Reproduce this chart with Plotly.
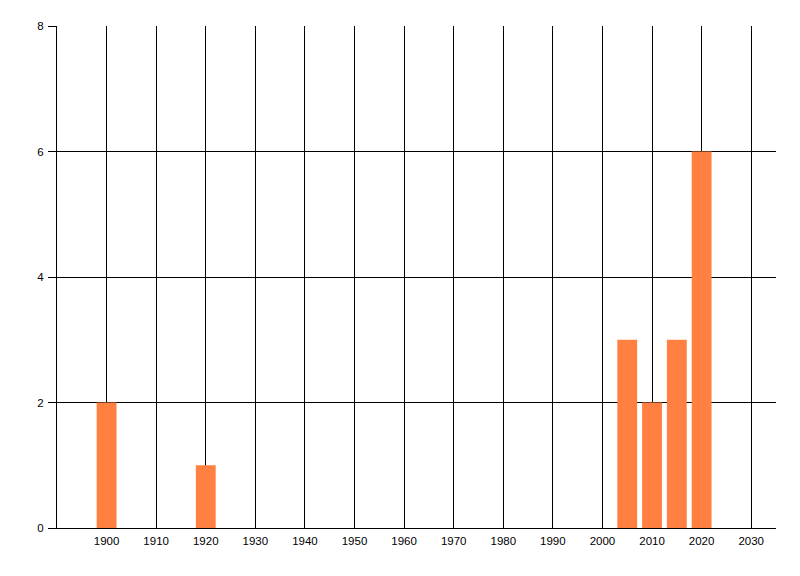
import plotly.graph_objects as go

# -- DATA --
years = [1900, 1920, 2005, 2010, 2015, 2020]
counts = [2, 1, 3, 2, 3, 6]
x_ticks = list(range(1900, 2031, 10))
y_ticks = [0, 2, 4, 6, 8]

BAR_COLOR = "#FF8040"

fig = go.Figure()
fig.add_trace(go.Bar(
    x=years,
    y=counts,
    width=4,
    marker_color=BAR_COLOR,
    marker_line_width=0,
))

# page body has an 8px margin, so the figure is a bit smaller than the window
fig.update_layout(
    width=784,
    height=560,
    template="plotly_white",
    paper_bgcolor="white",
    plot_bgcolor="white",
    showlegend=False,
    margin=dict(l=49, r=16, t=18, b=40),
    font=dict(family="Liberation Sans, Arial, sans-serif", size=11.5, color="black"),
)

fig.update_xaxes(
    range=[1890, 2035],
    tickvals=x_ticks,
    ticktext=[str(v) for v in x_ticks],
    showgrid=True,
    gridcolor="black",
    gridwidth=1,
    zeroline=False,
    showline=True,
    linecolor="black",
    linewidth=1,
    ticks="",
    ticklabelstandoff=2,
)

fig.update_yaxes(
    range=[0, 8],
    tickvals=y_ticks,
    showgrid=True,
    gridcolor="black",
    gridwidth=1,
    zeroline=False,
    showline=True,
    linecolor="black",
    linewidth=1,
    ticks="outside",
    ticklen=8,
    tickcolor="black",
    tickwidth=1,
    ticklabelstandoff=2,
)

fig.write_html("out.html")
